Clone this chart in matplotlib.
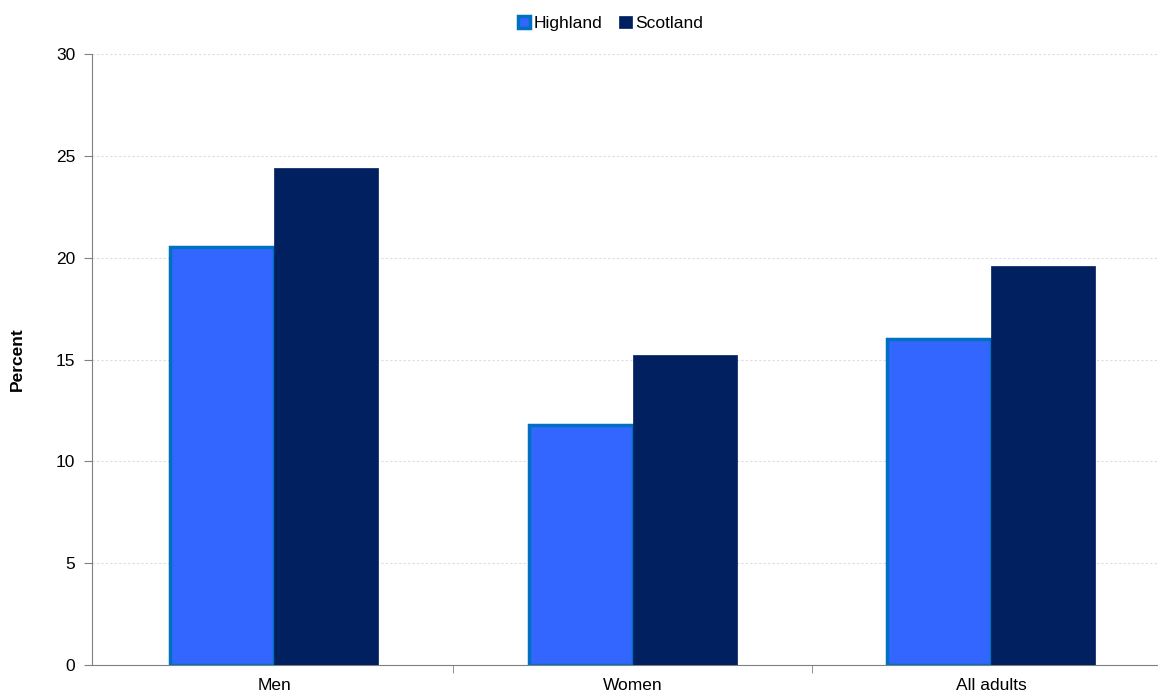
import numpy as np
import matplotlib.pyplot as plt

# Данные
categories = ['Men', 'Women', 'All adults']
highland = [20.5, 11.8, 16.0]
scotland = [24.4, 15.2, 19.6]

plt.rcParams['font.family'] = ['Liberation Sans', 'DejaVu Sans']

fig = plt.figure(figsize=(11.58, 6.95), dpi=100)
W, H = 1158, 695
ax = fig.add_axes([92 / W, 1 - 665 / H, (1158 - 92) / W, (665 - 54) / H])

x = np.arange(len(categories))
w = 0.29
ax.bar(x - w / 2, highland, w, color='#3366FF', edgecolor='#0070C0', linewidth=2.5,
       label='Highland', zorder=3)
ax.bar(x + w / 2, scotland, w, color='#002060', edgecolor='#002060', linewidth=0.5,
       label='Scotland', zorder=3)

ax.set_xlim(-0.508, 2.465)
ax.set_ylim(0, 30)
ax.set_yticks(range(0, 31, 5))
ax.set_xticks(x)
ax.set_xticklabels(categories, fontsize=12.5)
ax.tick_params(axis='x', length=0, pad=9)
# деления по границам категорий
ax.set_xticks([0.5, 1.5], minor=True)
ax.tick_params(axis='x', which='minor', length=6, color='#808080', direction='out')
ax.tick_params(axis='y', labelsize=12.5, length=6, color='#808080', direction='out', pad=6)

ax.grid(axis='y', linestyle=(0, (2, 2)), color='#dcdcdc', linewidth=0.8, zorder=0)
for s in ['top', 'right']:
    ax.spines[s].set_visible(False)
ax.spines['left'].set_color('#808080')
ax.spines['bottom'].set_color('#808080')
ax.set_ylabel('Percent', fontsize=12.5, fontweight='bold', labelpad=22)

fig.legend(loc='upper center', bbox_to_anchor=(0.527, 1.0), ncol=2, frameon=False,
           fontsize=12.5, handlelength=0.7, handleheight=0.7, handletextpad=0.2,
           columnspacing=1.0)

fig.savefig('out.png', dpi=100)
